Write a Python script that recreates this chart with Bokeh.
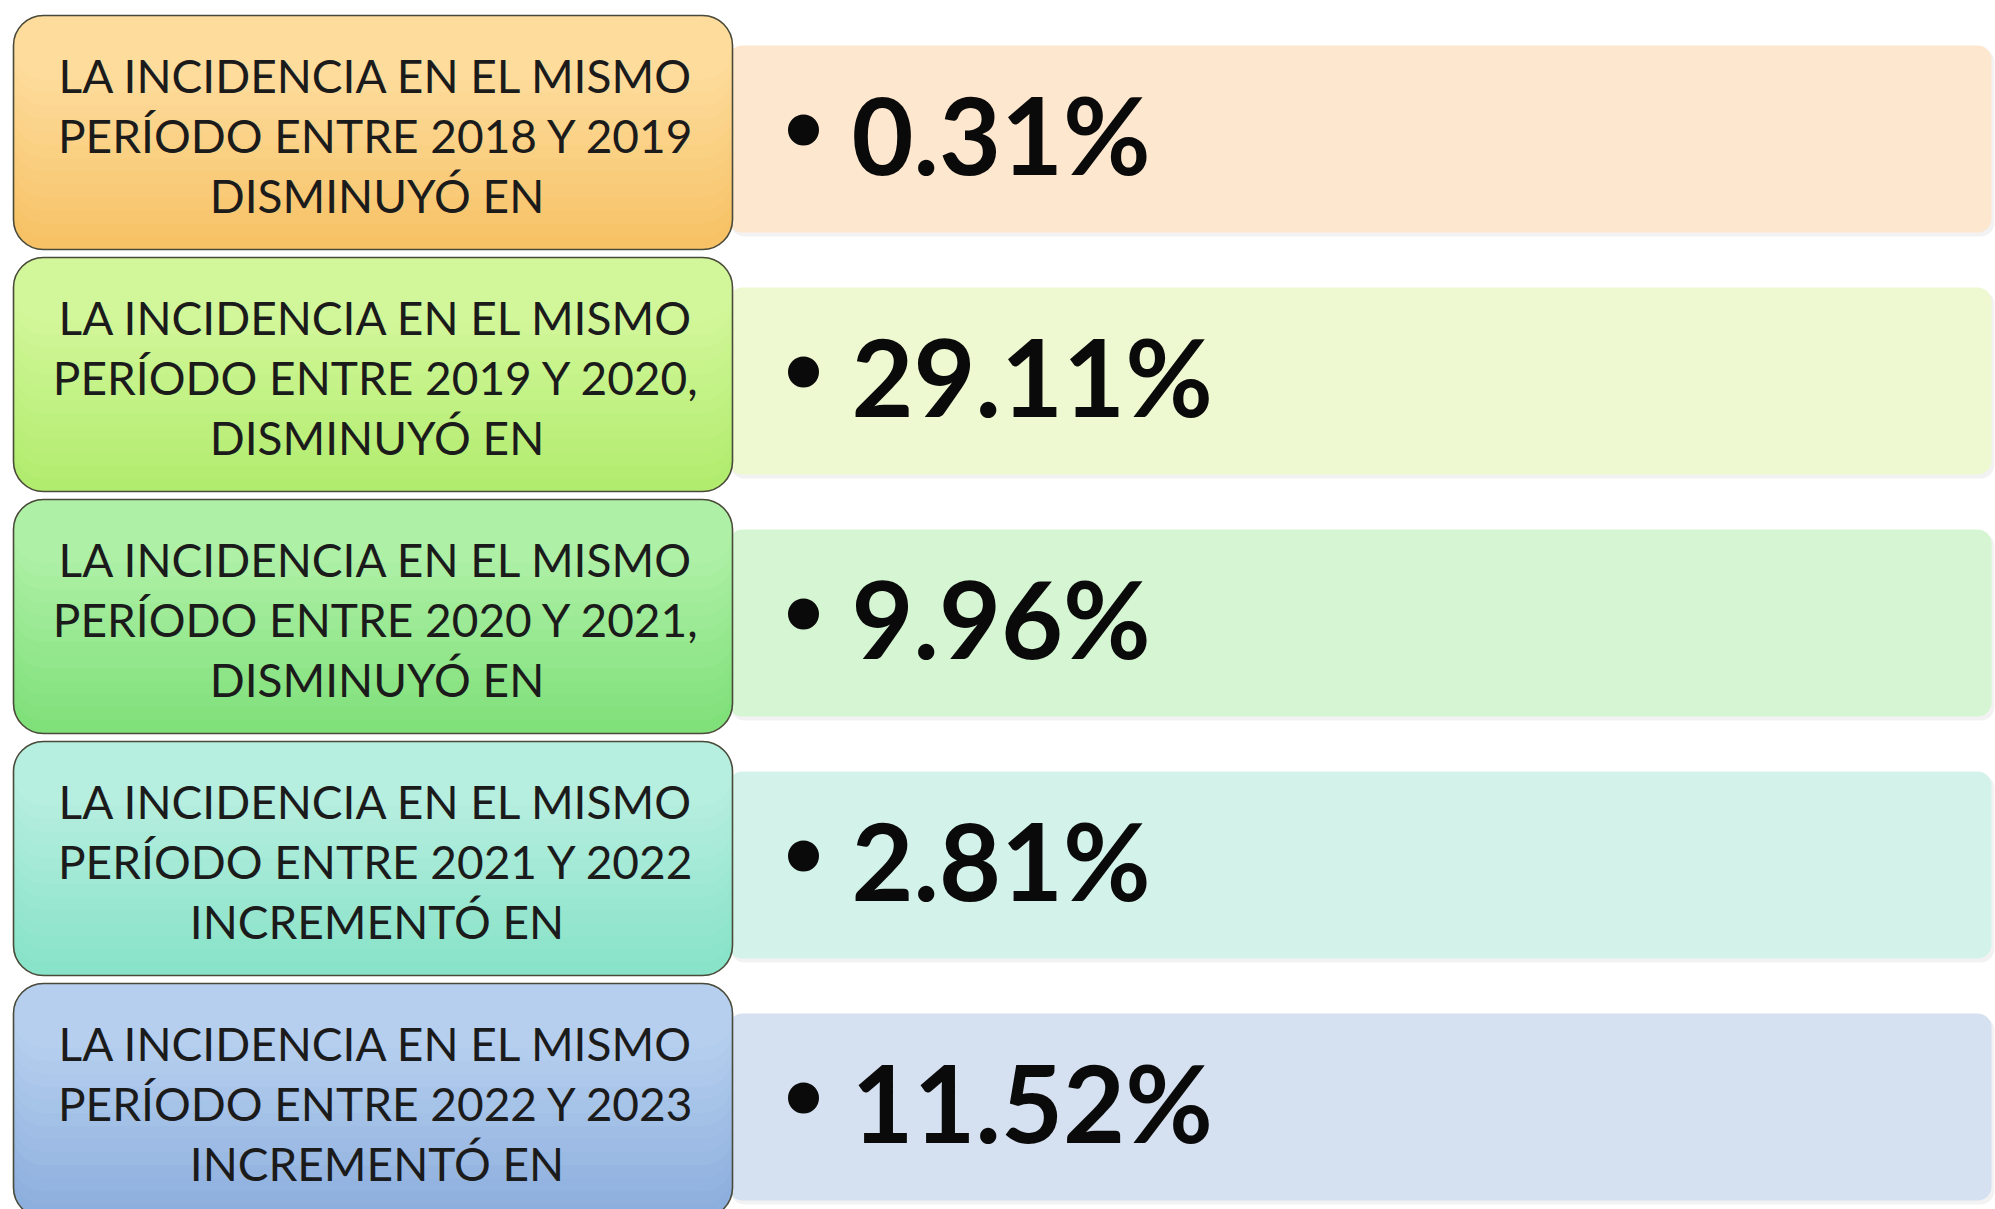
from bokeh.plotting import figure
from bokeh.models import Range1d
from bokeh.core.properties import value
from bokeh.embed import file_html
from bokeh.resources import INLINE

# ---------------- data ----------------
line1 = ["LA INCIDENCIA EN EL MISMO"] * 5
line2 = ["PERÍODO ENTRE 2018 Y 2019",
         "PERÍODO ENTRE 2019 Y 2020,",
         "PERÍODO ENTRE 2020 Y 2021,",
         "PERÍODO ENTRE 2021 Y 2022",
         "PERÍODO ENTRE 2022 Y 2023"]
line3 = ["DISMINUYÓ EN", "DISMINUYÓ EN", "DISMINUYÓ EN", "INCREMENTÓ EN", "INCREMENTÓ EN"]
values = ["0.31%", "29.11%", "9.96%", "2.81%", "11.52%"]

# ---------------- styles ----------------
box_top_col = ["#FDDC9C", "#D2F79A", "#AEF0A6", "#B6EEDF", "#B6CFEF"]
box_bot_col = ["#F7C266", "#B2EC6E", "#80E07A", "#88E3C8", "#8DAFDD"]
bar_col = ["#FDE7CE", "#EEF9D2", "#D6F6D3", "#D3F3EA", "#D5E0F0"]

W, H = 1995, 1209
p = figure(width=W, height=H, x_range=Range1d(0, W), y_range=Range1d(H, 0),
           output_backend="svg", toolbar_location=None, min_border=0)
p.axis.visible = False
p.grid.visible = False
p.outline_line_color = None
p.background_fill_color = "white"
p.border_fill_color = "white"

row0 = 15.0
pitch = 242.0
box_h = 234.0
box_l, box_r = 13.0, 732.0
bar_l, bar_r = 728.0, 1991.0
bar_off, bar_h = 30.0, 187.0


def hex2rgb(h):
    h = h.lstrip("#")
    return tuple(int(h[i:i + 2], 16) for i in (0, 2, 4))


def rgb2hex(c):
    return "#%02x%02x%02x" % tuple(int(round(v)) for v in c)


n = len(values)
tops = [row0 + i * pitch for i in range(n)]
bots = [t + box_h for t in tops]
cy = [(t + b) / 2 for t, b in zip(tops, bots)]

# bars on the right (with a faint shadow)
bar_t = [t + bar_off for t in tops]
bar_b = [t + bar_h for t in bar_t]
p.quad(left=[bar_l + 2] * n, right=[bar_r + 3] * n, top=[t + 3 for t in bar_t],
       bottom=[b + 4 for b in bar_b], fill_color="#000000", fill_alpha=0.05,
       line_color=None, border_radius=14)
p.quad(left=[bar_l] * n, right=[bar_r] * n, top=bar_t, bottom=bar_b,
       fill_color=bar_col, line_color=None, border_radius=14)

# gradient boxes (top-aligned bands of decreasing height)
nb = 14
min_h = 64.0
for k in range(nb):
    frac = k / (nb - 1)
    hgt = box_h - (box_h - min_h) * frac
    cols = []
    for i in range(n):
        a = hex2rgb(box_bot_col[i]); b = hex2rgb(box_top_col[i])
        cols.append(rgb2hex([a[j] + (b[j] - a[j]) * frac for j in range(3)]))
    p.quad(left=[box_l] * n, right=[box_r] * n, top=tops,
           bottom=[t + hgt for t in tops], fill_color=cols, line_color=None,
           border_radius=30)
p.quad(left=[box_l] * n, right=[box_r] * n, top=tops, bottom=bots,
       fill_color=None, line_color="#4a4a3a", line_width=1.6, border_radius=30)

# box texts
cx = (box_l + box_r) / 2 + 4
lh = 60.0
tx, ty, tt = [], [], []
for i in range(n):
    for j, s in enumerate([line1[i], line2[i], line3[i]]):
        tx.append(cx); ty.append(cy[i] + (j - 1) * lh + 3); tt.append(s)
p.text(x=tx, y=ty, text=tt, text_align="center", text_baseline="middle",
       text_font=value("Lato"), text_font_size="46px", text_color="#1b1b1b")

# bullets and values
bar_c = [(t + b) / 2 for t, b in zip(bar_t, bar_b)]
p.scatter(x=[803] * n, y=[c - 9 for c in bar_c], marker="circle", size=31,
          fill_color="#0a0a0a", line_color=None)
p.text(x=[851] * n, y=[c - 6 for c in bar_c], text=values, text_align="left",
       text_baseline="middle", text_font=value("Lato"), text_font_style="bold",
       text_font_size="107px", text_color="#0a0a0a")

open("out.html", "w").write(file_html(p, INLINE))
